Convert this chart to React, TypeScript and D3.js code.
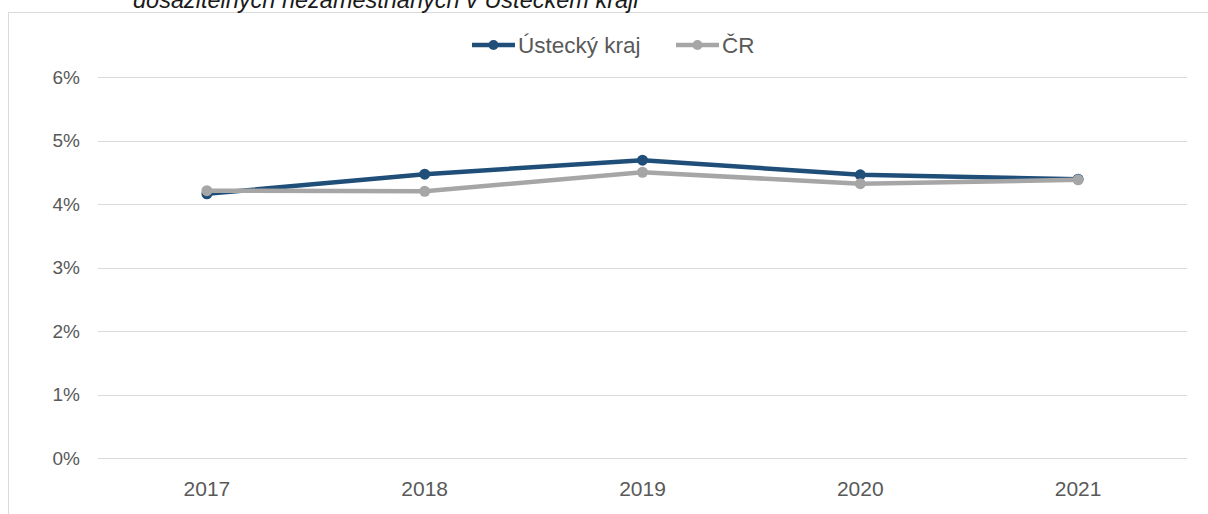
import React, { useRef, useEffect } from "react";
import * as d3 from "d3";

// data
const years = ["2017", "2018", "2019", "2020", "2021"];
const usteckyKraj = [4.16, 4.47, 4.69, 4.46, 4.39];
const cr = [4.21, 4.2, 4.5, 4.32, 4.38];
const yTicks = [0, 1, 2, 3, 4, 5, 6];
const titleText = "dosažitelných nezaměstnaných v Ústeckém kraji";

const series = [
  { name: "Ústecký kraj", values: usteckyKraj, color: "#1f4e79" },
  { name: "ČR", values: cr, color: "#a6a6a6" },
];

function App() {
  const svgRef = useRef();
  const width = 1208;
  const height = 514;

  useEffect(() => {
    const svg = d3.select(svgRef.current);
    svg.selectAll("*").remove();

    const font = "'Liberation Sans', Arial, sans-serif";

    // chart frame (cut off on right and bottom)
    svg
      .append("rect")
      .attr("x", 8.5)
      .attr("y", 12.5)
      .attr("width", 1300)
      .attr("height", 600)
      .attr("fill", "white")
      .attr("stroke", "#d9d9d9");

    // title, only the bottom of it shows
    svg
      .append("text")
      .attr("x", 133)
      .attr("y", 8)
      .style("font-family", font)
      .style("font-style", "italic")
      .style("font-size", "23.5px")
      .attr("fill", "#1a1a1a")
      .text(titleText);

    const x = d3.scaleBand().domain(years).range([98, 1187]);
    const y = d3.scaleLinear().domain([0, 6]).range([458, 77]);

    // gridlines
    svg
      .append("g")
      .selectAll("line")
      .data(yTicks)
      .join("line")
      .attr("x1", 98)
      .attr("x2", 1187)
      .attr("y1", (d) => Math.round(y(d)) + 0.5)
      .attr("y2", (d) => Math.round(y(d)) + 0.5)
      .attr("stroke", "#d9d9d9")
      .attr("stroke-width", 1);

    // y labels
    svg
      .append("g")
      .selectAll("text")
      .data(yTicks)
      .join("text")
      .attr("x", 80)
      .attr("y", (d) => y(d))
      .attr("dy", "0.35em")
      .attr("text-anchor", "end")
      .style("font-family", font)
      .style("font-size", "19px")
      .attr("fill", "#595959")
      .text((d) => d + "%");

    // x labels
    svg
      .append("g")
      .selectAll("text")
      .data(years)
      .join("text")
      .attr("x", (d) => x(d) + x.bandwidth() / 2)
      .attr("y", 489)
      .attr("dy", "0.35em")
      .attr("text-anchor", "middle")
      .style("font-family", font)
      .style("font-size", "21px")
      .attr("fill", "#595959")
      .text((d) => d);

    const line = d3
      .line()
      .x((d, i) => x(years[i]) + x.bandwidth() / 2)
      .y((d) => y(d));

    // blue first, grey drawn over it as in the reference
    series.forEach((s) => {
      const g = svg.append("g");
      g.append("path")
        .datum(s.values)
        .attr("d", line)
        .attr("fill", "none")
        .attr("stroke", s.color)
        .attr("stroke-width", 4.5)
        .attr("stroke-linejoin", "round");
      g.selectAll("circle")
        .data(s.values)
        .join("circle")
        .attr("cx", (d, i) => x(years[i]) + x.bandwidth() / 2)
        .attr("cy", (d) => y(d))
        .attr("r", 5.5)
        .attr("fill", s.color);
    });

    // legend
    const legendItems = [
      { s: series[0], x0: 472 },
      { s: series[1], x0: 676 },
    ];
    legendItems.forEach(({ s, x0 }) => {
      const g = svg.append("g").attr("transform", `translate(${x0},45)`);
      g.append("line")
        .attr("x1", 0)
        .attr("x2", 43)
        .attr("stroke", s.color)
        .attr("stroke-width", 4.5);
      g.append("circle").attr("cx", 21.5).attr("r", 5).attr("fill", s.color);
      g.append("text")
        .attr("x", 46)
        .attr("dy", "0.35em")
        .style("font-family", font)
        .style("font-size", "22.5px")
        .attr("fill", "#595959")
        .text(s.name);
    });
  }, []);

  return (
    <svg
      ref={svgRef}
      width={width}
      height={height}
      style={{ position: "absolute", left: 0, top: 0, background: "white" }}
    ></svg>
  );
}

export default App;
